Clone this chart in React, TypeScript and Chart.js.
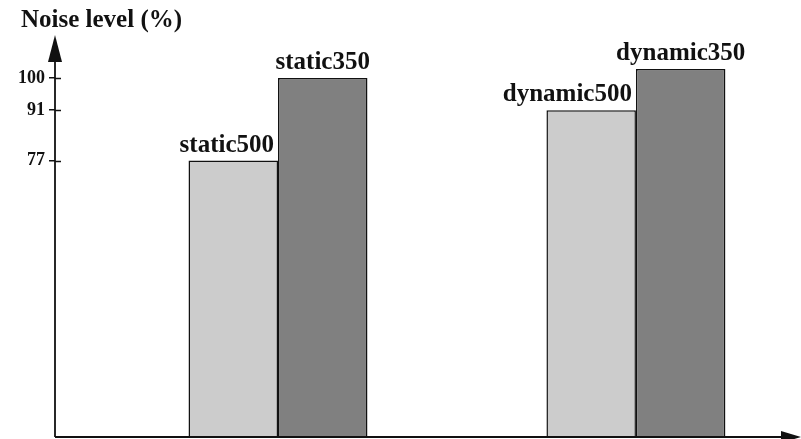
import React, { useEffect, useRef } from "react";
import { Chart, registerables } from "chart.js";

Chart.register(...registerables);

// ---- data ----
const categories = ["static", "dynamic"];
const categoryPositions = [1, 2];
const series500 = [77, 91];
const series350 = [100, 102.5];
const labels500 = ["static500", "dynamic500"];
const labels350 = ["static350", "dynamic350"];
const yTicks = [77, 91, 100];
const yTitle = "Noise level (%)";

const FONT = "'Liberation Serif', 'Times New Roman', serif";
const INK = "#111111";

const decorPlugin = {
  id: "decor",
  afterDatasetsDraw(chart: any) {
    const { ctx, chartArea, scales } = chart;
    const left = chartArea.left;
    const bottom = chartArea.bottom;
    ctx.save();
    ctx.strokeStyle = INK;
    ctx.fillStyle = INK;
    ctx.lineWidth = 1.8;
    // y axis line + arrow
    ctx.beginPath();
    ctx.moveTo(left, bottom);
    ctx.lineTo(left, 50);
    ctx.stroke();
    ctx.beginPath();
    ctx.moveTo(left, 35);
    ctx.lineTo(left - 7, 62);
    ctx.lineTo(left + 7, 62);
    ctx.closePath();
    ctx.fill();
    // x axis line + arrow
    ctx.beginPath();
    ctx.moveTo(left, bottom);
    ctx.lineTo(790, bottom);
    ctx.stroke();
    ctx.beginPath();
    ctx.moveTo(801, bottom);
    ctx.lineTo(781, bottom - 6);
    ctx.lineTo(781, bottom + 6);
    ctx.closePath();
    ctx.fill();
    // inner part of tick marks
    ctx.lineWidth = 1.5;
    for (const v of yTicks) {
      const y = Math.round(scales.y.getPixelForValue(v)) + 0.5;
      ctx.beginPath();
      ctx.moveTo(left, y);
      ctx.lineTo(left + 6, y);
      ctx.stroke();
    }
    // axis title
    ctx.font = `bold 25px ${FONT}`;
    ctx.textAlign = "left";
    ctx.textBaseline = "alphabetic";
    ctx.fillText(yTitle, 21, 27);
    // bar labels
    ctx.font = `bold 25px ${FONT}`;
    const sets = [labels500, labels350];
    chart.data.datasets.forEach((_: any, di: number) => {
      const meta = chart.getDatasetMeta(di);
      meta.data.forEach((el: any, i: number) => {
        const text = sets[di][i];
        if (di === 0) {
          ctx.textAlign = "right";
          ctx.fillText(text, el.x + el.width / 2 - 4, el.y - 9);
        } else {
          ctx.textAlign = "center";
          ctx.fillText(text, el.x, el.y - 9);
        }
      });
    });
    ctx.restore();
  },
};

export default function App() {
  const ref = useRef<HTMLCanvasElement | null>(null);

  useEffect(() => {
    if (!ref.current) return;
    const chart = new Chart(ref.current, {
      type: "bar",
      data: {
        labels: categories,
        datasets: [
          {
            label: "500",
            data: categoryPositions.map((x, i) => ({ x, y: series500[i] })),
            backgroundColor: "#cccccc",
            borderColor: INK,
            borderWidth: 1.5,
            categoryPercentage: 0.5,
            barPercentage: 1,
          },
          {
            label: "350",
            data: categoryPositions.map((x, i) => ({ x, y: series350[i] })),
            backgroundColor: "#808080",
            borderColor: INK,
            borderWidth: 1.5,
            categoryPercentage: 0.5,
            barPercentage: 1,
          },
        ] as any,
      },
      options: {
        responsive: false,
        animation: false,
        layout: { padding: { left: 0, right: 4, top: 42, bottom: 2 } },
        plugins: {
          legend: { display: false },
          tooltip: { enabled: false },
          title: { display: false },
        },
        scales: {
          x: {
            type: "linear",
            display: false,
            offset: false,
            min: 0.377,
            max: 2.45,
            afterBuildTicks: (scale: any) => {
              scale.ticks = categoryPositions.map((v) => ({ value: v }));
            },
          },
          y: {
            type: "linear",
            min: 0,
            max: 110,
            border: { display: false },
            grid: {
              display: true,
              drawOnChartArea: false,
              drawTicks: true,
              tickLength: 6,
              color: INK,
              lineWidth: 1.5,
            },
            ticks: {
              padding: 4,
              color: INK,
              font: { family: FONT, size: 18, weight: "bold" },
            },
            afterBuildTicks: (scale: any) => {
              scale.ticks = yTicks.map((v) => ({ value: v }));
            },
            afterFit: (scale: any) => {
              scale.width = 55;
              scale.paddingTop = 0;
              scale.paddingBottom = 0;
            },
          },
        },
      } as any,
      plugins: [decorPlugin],
    });
    return () => chart.destroy();
  }, []);

  return (
    <div style={{ position: "fixed", left: 0, top: 0, width: 801, height: 439, background: "#ffffff" }}>
      <canvas ref={ref} width={801} height={439} style={{ width: 801, height: 439, display: "block" }} />
    </div>
  );
}
